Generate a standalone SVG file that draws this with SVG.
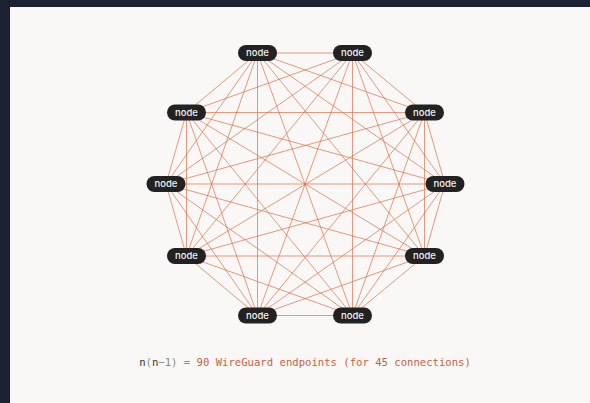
<svg xmlns="http://www.w3.org/2000/svg" width="590" height="403" viewBox="0 0 590 403">
<style>
.edge{stroke:#d9663f;stroke-width:1;stroke-opacity:0.65;fill:none}
.pill{fill:#222222}
.lbl{font-family:Inter,"Liberation Sans",sans-serif;font-size:9.5px;font-weight:500;fill:#f2f2f2;text-anchor:middle}
.f{font-family:"DejaVu Sans Mono","Liberation Mono",monospace;font-size:10.6px}
</style>
<rect width="590" height="403" fill="#1b2130"/>
<rect x="10" y="7" width="580" height="396" fill="#f9f8f6"/>
<g id="connectors">
<line class="edge" x1="445" y1="184" x2="424.5" y2="112.5"/>
<line class="edge" x1="445" y1="184" x2="352.5" y2="53"/>
<line class="edge" x1="445" y1="184" x2="257.5" y2="53"/>
<line class="edge" x1="445" y1="184" x2="186.5" y2="112.5"/>
<line class="edge" x1="445" y1="184" x2="166" y2="184"/>
<line class="edge" x1="445" y1="184" x2="186.5" y2="256"/>
<line class="edge" x1="445" y1="184" x2="257.5" y2="315.5"/>
<line class="edge" x1="445" y1="184" x2="352.5" y2="315.5"/>
<line class="edge" x1="445" y1="184" x2="424.5" y2="256"/>
<line class="edge" x1="424.5" y1="112.5" x2="352.5" y2="53"/>
<line class="edge" x1="424.5" y1="112.5" x2="257.5" y2="53"/>
<line class="edge" x1="424.5" y1="112.5" x2="186.5" y2="112.5"/>
<line class="edge" x1="424.5" y1="112.5" x2="166" y2="184"/>
<line class="edge" x1="424.5" y1="112.5" x2="186.5" y2="256"/>
<line class="edge" x1="424.5" y1="112.5" x2="257.5" y2="315.5"/>
<line class="edge" x1="424.5" y1="112.5" x2="352.5" y2="315.5"/>
<line class="edge" x1="424.5" y1="112.5" x2="424.5" y2="256"/>
<line class="edge" x1="352.5" y1="53" x2="257.5" y2="53"/>
<line class="edge" x1="352.5" y1="53" x2="186.5" y2="112.5"/>
<line class="edge" x1="352.5" y1="53" x2="166" y2="184"/>
<line class="edge" x1="352.5" y1="53" x2="186.5" y2="256"/>
<line class="edge" x1="352.5" y1="53" x2="257.5" y2="315.5"/>
<line class="edge" x1="352.5" y1="53" x2="352.5" y2="315.5"/>
<line class="edge" x1="352.5" y1="53" x2="424.5" y2="256"/>
<line class="edge" x1="257.5" y1="53" x2="186.5" y2="112.5"/>
<line class="edge" x1="257.5" y1="53" x2="166" y2="184"/>
<line class="edge" x1="257.5" y1="53" x2="186.5" y2="256"/>
<line class="edge" x1="257.5" y1="53" x2="257.5" y2="315.5"/>
<line class="edge" x1="257.5" y1="53" x2="352.5" y2="315.5"/>
<line class="edge" x1="257.5" y1="53" x2="424.5" y2="256"/>
<line class="edge" x1="186.5" y1="112.5" x2="166" y2="184"/>
<line class="edge" x1="186.5" y1="112.5" x2="186.5" y2="256"/>
<line class="edge" x1="186.5" y1="112.5" x2="257.5" y2="315.5"/>
<line class="edge" x1="186.5" y1="112.5" x2="352.5" y2="315.5"/>
<line class="edge" x1="186.5" y1="112.5" x2="424.5" y2="256"/>
<line class="edge" x1="166" y1="184" x2="186.5" y2="256"/>
<line class="edge" x1="166" y1="184" x2="257.5" y2="315.5"/>
<line class="edge" x1="166" y1="184" x2="352.5" y2="315.5"/>
<line class="edge" x1="166" y1="184" x2="424.5" y2="256"/>
<line class="edge" x1="186.5" y1="256" x2="257.5" y2="315.5"/>
<line class="edge" x1="186.5" y1="256" x2="352.5" y2="315.5"/>
<line class="edge" x1="186.5" y1="256" x2="424.5" y2="256"/>
<line class="edge" x1="257.5" y1="315.5" x2="352.5" y2="315.5"/>
<line class="edge" x1="257.5" y1="315.5" x2="424.5" y2="256"/>
<line class="edge" x1="352.5" y1="315.5" x2="424.5" y2="256"/>
</g>
<g id="node0"><rect class="pill" x="425.5" y="176" width="39" height="16" rx="8"/><text class="lbl" x="445" y="187.3">node</text></g>
<g id="node1"><rect class="pill" x="405" y="104.5" width="39" height="16" rx="8"/><text class="lbl" x="424.5" y="115.8">node</text></g>
<g id="node2"><rect class="pill" x="333" y="45" width="39" height="16" rx="8"/><text class="lbl" x="352.5" y="56.3">node</text></g>
<g id="node3"><rect class="pill" x="238" y="45" width="39" height="16" rx="8"/><text class="lbl" x="257.5" y="56.3">node</text></g>
<g id="node4"><rect class="pill" x="167" y="104.5" width="39" height="16" rx="8"/><text class="lbl" x="186.5" y="115.8">node</text></g>
<g id="node5"><rect class="pill" x="146.5" y="176" width="39" height="16" rx="8"/><text class="lbl" x="166" y="187.3">node</text></g>
<g id="node6"><rect class="pill" x="167" y="248" width="39" height="16" rx="8"/><text class="lbl" x="186.5" y="259.3">node</text></g>
<g id="node7"><rect class="pill" x="238" y="307.5" width="39" height="16" rx="8"/><text class="lbl" x="257.5" y="318.8">node</text></g>
<g id="node8"><rect class="pill" x="333" y="307.5" width="39" height="16" rx="8"/><text class="lbl" x="352.5" y="318.8">node</text></g>
<g id="node9"><rect class="pill" x="405" y="248" width="39" height="16" rx="8"/><text class="lbl" x="424.5" y="259.3">node</text></g>
<text class="f" x="305" y="366" text-anchor="middle" xml:space="preserve"><tspan fill="#333333">n</tspan><tspan fill="#8a8a8a">(</tspan><tspan fill="#333333">n</tspan><tspan fill="#8a8a8a">−1) = </tspan><tspan fill="#c8613e">90 WireGuard endpoints (for 45 connections)</tspan></text>
</svg>
